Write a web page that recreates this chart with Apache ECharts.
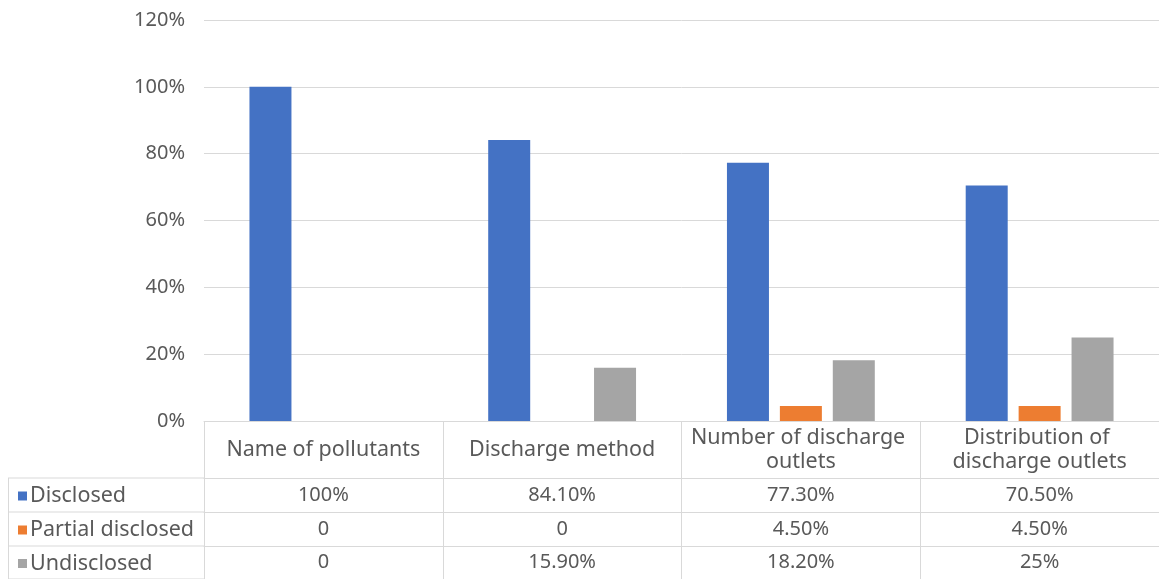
<!DOCTYPE html>
<html><head><meta charset="utf-8">
<script src="https://cdn.jsdelivr.net/npm/echarts@6/dist/echarts.min.js"></script>
<style>html,body{margin:0;padding:0;background:#fff}#c{width:1159px;height:579px}</style>
</head><body><div id="c"></div>
<script>
const categories = ['Name of pollutants', 'Discharge method', 'Number of discharge outlets', 'Distribution of discharge outlets'];
const seriesNames = ['Disclosed', 'Partial disclosed', 'Undisclosed'];
const disclosed = [100, 84.1, 77.3, 70.5];
const partial = [0, 0, 4.5, 4.5];
const undisclosed = [0, 15.9, 18.2, 25];
const colors = ['#4472C4', '#ED7D31', '#A5A5A5'];
const yMin = 0, yMax = 120, yInterval = 20;

const FONT = '"Noto Sans", sans-serif';
const TXT = '#595959';
const LINE = '#D9D9D9';
const FS = 20;
const FS_TXT = 21.5;

const gridLeft = 204, gridTop = 20, gridBottom = 158, gridWidth = 962;
const headerH = 57, rowH = [34, 34, 33];
const tableLeft = 8;
const H = 579;

function fmt(v) {
  if (v === 0) return '0';
  if (Number.isInteger(v)) return v + '%';
  return v.toFixed(2) + '%';
}

const allSeries = [disclosed, partial, undisclosed];
const baseY = H - gridBottom;

const xAxes = [{
  type: 'category', data: categories, gridIndex: 0, position: 'bottom',
  axisLine: { show: true, lineStyle: { color: LINE, width: 1 } },
  axisTick: { show: true, length: headerH, lineStyle: { color: LINE } },
  axisLabel: { interval: 0, color: TXT, fontSize: FS_TXT, fontFamily: FONT, margin: headerH / 2,
    verticalAlign: 'middle', width: 230, overflow: 'break', lineHeight: 24, align: 'center' }
}];
let off = headerH;
allSeries.forEach((arr, i) => {
  xAxes.push({
    type: 'category', data: categories, gridIndex: 0, position: 'bottom', offset: off,
    axisLine: { show: true, lineStyle: { color: LINE, width: 1 } },
    axisTick: { show: true, length: rowH[i], lineStyle: { color: LINE } },
    axisLabel: { interval: 0, color: TXT, fontSize: FS, fontFamily: FONT, margin: rowH[i] / 2,
      verticalAlign: 'middle', formatter: (v, idx) => fmt(arr[idx]) }
  });
  off += rowH[i];
});

const graphics = [];
let y = baseY + headerH;
graphics.push({ type: 'line', shape: { x1: tableLeft, y1: y, x2: gridLeft, y2: y }, style: { stroke: LINE, lineWidth: 1 } });
rowH.forEach(h => {
  y += h;
  graphics.push({ type: 'line', shape: { x1: tableLeft, y1: y, x2: gridLeft, y2: y }, style: { stroke: LINE, lineWidth: 1 } });
});
graphics.push({ type: 'line', shape: { x1: tableLeft + 0.5, y1: baseY + headerH, x2: tableLeft + 0.5, y2: H }, style: { stroke: LINE, lineWidth: 1 } });

const legends = [];
let ly = baseY + headerH;
seriesNames.forEach((n, i) => {
  legends.push({
    data: [n], left: 13, top: ly + rowH[i] / 2 - 15, height: 24,
    icon: 'rect', itemWidth: 9, itemHeight: 9, itemGap: 0,
    textStyle: { color: TXT, fontSize: FS_TXT, fontFamily: FONT, padding: [0, 0, 0, -2] },
    selectedMode: false
  });
  ly += rowH[i];
});

const chart = echarts.init(document.getElementById('c'), null, { renderer: 'canvas' });
chart.setOption({
  animation: false,
  backgroundColor: '#fff',
  grid: { left: gridLeft, top: gridTop, bottom: gridBottom, width: gridWidth, containLabel: false },
  legend: legends,
  xAxis: xAxes,
  yAxis: {
    type: 'value', min: yMin, max: yMax, interval: yInterval,
    axisLine: { show: false }, axisTick: { show: false },
    splitLine: { lineStyle: { color: LINE, width: 1 } },
    axisLabel: { color: TXT, fontSize: FS, fontFamily: FONT, margin: 19, formatter: '{value}%' }
  },
  series: allSeries.map((arr, i) => ({
    name: seriesNames[i], type: 'bar', data: arr, barWidth: 42, barGap: '26%',
    itemStyle: { color: colors[i] }
  })),
  graphic: graphics
});
</script></body></html>
